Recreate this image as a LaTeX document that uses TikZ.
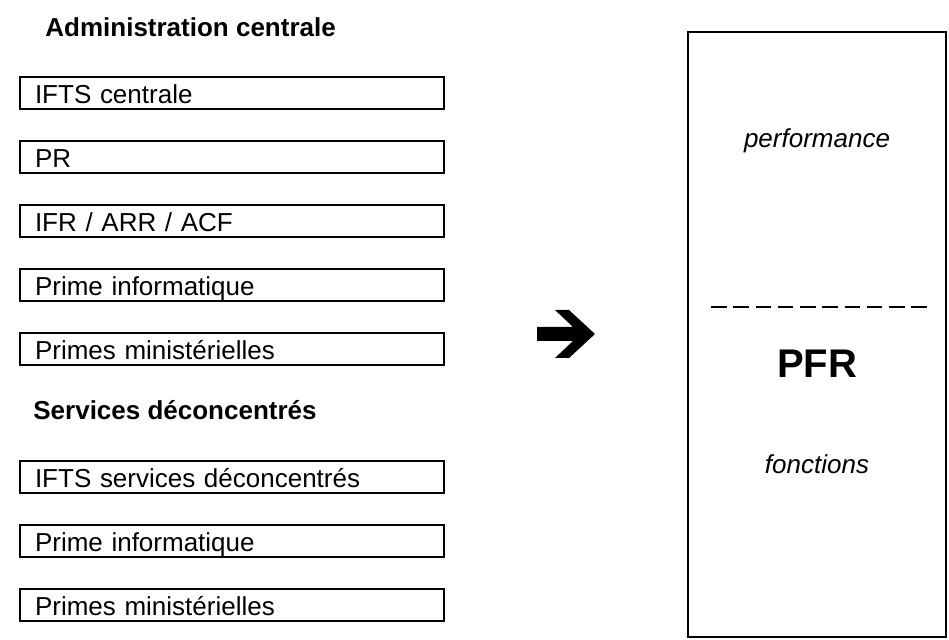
\documentclass[tikz,border=0pt]{standalone}
\usepackage{fontspec}
\setmainfont{Liberation Sans}
\begin{document}
\begin{tikzpicture}[x=0.5pt,y=-0.5pt,
  itembox/.style={draw,line width=0.7pt,minimum width=212pt,minimum height=16pt,
    text width=197pt,align=left,inner xsep=7.5pt,inner ysep=0pt,
    text height=11pt,text depth=0pt,font=\fontsize{13}{15}\selectfont},
  heading/.style={anchor=base west,inner sep=0pt,font=\fontsize{13}{15}\selectfont\bfseries},
  pfrframe/.style={draw,line width=0.7pt,minimum width=129pt,minimum height=302.5pt,inner sep=0pt},
  itlabel/.style={font=\fontsize{13}{15}\selectfont\itshape,inner sep=0pt,anchor=base},
  biglabel/.style={font=\fontsize{20}{24}\selectfont\bfseries,inner sep=0pt,anchor=base},
  divider/.style={line width=1pt,dash pattern=on 7.76pt off 3.375pt}]
\useasboundingbox (0,0) rectangle (949,640);
% left column
\node[heading] (h1) at (45,37) {Administration centrale};
\node[itembox] (b1) at (232,93) {IFTS centrale};
\node[itembox] (b2) at (232,157) {PR};
\node[itembox] (b3) at (232,221) {IFR / ARR / ACF};
\node[itembox] (b4) at (232,285) {Prime informatique};
\node[itembox] (b5) at (232,349) {Primes ministérielles};
\node[heading] (h2) at (33,420) {Services déconcentrés};
\node[itembox] (b6) at (232,477) {IFTS services déconcentrés};
\node[itembox] (b7) at (232,541) {Prime informatique};
\node[itembox] (b8) at (232,605) {Primes ministérielles};
% arrow glyph
\fill (537,327) -- (573,327) -- (555,310) -- (569,310) -- (595,334)
      -- (569,358) -- (555,358) -- (573,341) -- (537,341) -- cycle;
% right frame
\node[pfrframe] (pfr) at (817,334.5) {};
\node[itlabel] (perf) at (817,148) {performance};
\draw[divider] (711,307) -- (927,307);
\node[biglabel] (pfrlabel) at (817,378) {PFR};
\node[itlabel] (fonc) at (817,474) {fonctions};
\end{tikzpicture}
\end{document}
